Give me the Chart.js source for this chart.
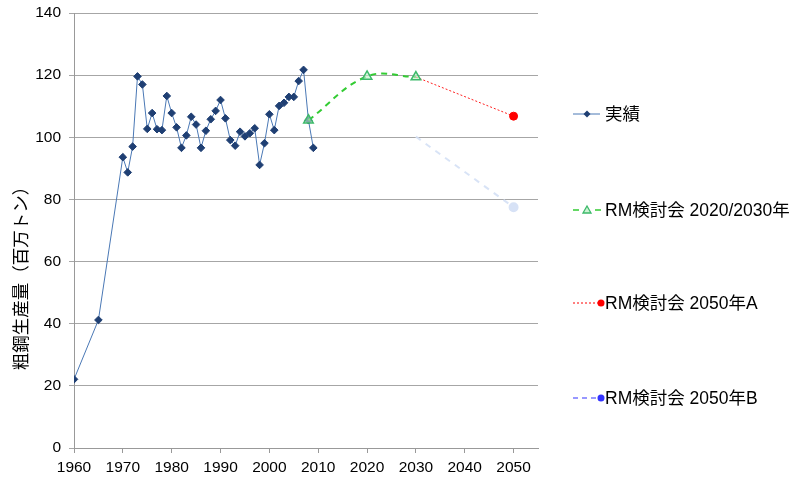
<!DOCTYPE html>
<html><head><meta charset="utf-8">
<script src="https://cdn.jsdelivr.net/npm/chart.js@4"></script>
<style>html,body{margin:0;padding:0;background:#fff}</style>
</head><body>
<canvas id="c" width="792" height="481"></canvas>
<script>
const actualYears = [1960,1965,1970,1971,1972,1973,1974,1975,1976,1977,1978,1979,1980,1981,1982,1983,1984,1985,1986,1987,1988,1989,1990,1991,1992,1993,1994,1995,1996,1997,1998,1999,2000,2001,2002,2003,2004,2005,2006,2007,2008,2009];
const actualValues = [22.1,41.2,93.6,88.7,97.0,119.6,117.0,102.7,107.8,102.6,102.3,113.3,107.8,103.2,96.6,100.6,106.6,104.1,96.6,102.1,105.8,108.5,112.0,106.1,99.1,97.3,101.8,100.3,101.3,102.9,91.1,98.1,107.4,102.3,110.1,111.1,113.0,113.0,118.1,121.7,105.5,96.6];
const rmYears = [2008,2020,2030];
const rmValues = [105.5,119.6,119.4];
const aYears = [2030,2050];
const aValues = [119.4,106.8];
const bYears = [2030,2050];
const bValues = [100.2,77.5];
const xTicks = [1960,1970,1980,1990,2000,2010,2020,2030,2040,2050];
const yTitle = '粗鋼生産量（百万トン）';
const legendNames = ['実績','RM検討会 2020/2030年','RM検討会 2050年A','RM検討会 2050年B'];

const pts = (xs, ys) => xs.map((x,i)=>({x, y: ys[i]}));
const FONT = '"Liberation Sans", Arial, "Noto Sans CJK JP", sans-serif';

const extras = {
  id: 'extras',
  afterDraw(chart) {
    const ctx = chart.ctx;
    ctx.save();
    ctx.translate(20, 274);
    ctx.rotate(-Math.PI/2);
    ctx.fillStyle = '#000';
    ctx.font = '17.5px "Noto Sans CJK JP", sans-serif';
    ctx.textAlign = 'center';
    ctx.textBaseline = 'middle';
    ctx.fillText(yTitle, 0, 0);
    ctx.restore();

    const ys = [114, 210, 303, 398];
    ctx.save();
    ctx.font = '17.5px ' + FONT;
    ctx.textBaseline = 'middle';
    let y = ys[0];
    ctx.strokeStyle = '#4a78b5'; ctx.lineWidth = 1;
    ctx.beginPath(); ctx.moveTo(573, y); ctx.lineTo(600, y); ctx.stroke();
    ctx.fillStyle = '#1f3f73';
    ctx.beginPath(); ctx.moveTo(587, y-3.5); ctx.lineTo(590.5, y); ctx.lineTo(587, y+3.5); ctx.lineTo(583.5, y); ctx.closePath(); ctx.fill();
    y = ys[1];
    ctx.strokeStyle = '#33cc33'; ctx.lineWidth = 1.5;
    ctx.beginPath(); ctx.moveTo(573, y); ctx.lineTo(579, y); ctx.moveTo(595, y); ctx.lineTo(601, y); ctx.stroke();
    ctx.strokeStyle = '#3cb96a'; ctx.fillStyle = 'rgba(190,240,200,0.8)'; ctx.lineWidth = 1.3;
    ctx.beginPath(); ctx.moveTo(587, y-4); ctx.lineTo(591, y+3); ctx.lineTo(583, y+3); ctx.closePath(); ctx.fill(); ctx.stroke();
    y = ys[2];
    ctx.strokeStyle = '#ff0000'; ctx.lineWidth = 1; ctx.setLineDash([2,2]);
    ctx.beginPath(); ctx.moveTo(573, y); ctx.lineTo(598, y); ctx.stroke();
    ctx.setLineDash([]);
    ctx.fillStyle = '#ff0000';
    ctx.beginPath(); ctx.arc(601, y, 3.5, 0, Math.PI*2); ctx.fill();
    y = ys[3];
    ctx.strokeStyle = '#3333ff'; ctx.lineWidth = 1.2; ctx.setLineDash([5,4]);
    ctx.beginPath(); ctx.moveTo(573, y); ctx.lineTo(598, y); ctx.stroke();
    ctx.setLineDash([]);
    ctx.fillStyle = '#3333ff';
    ctx.beginPath(); ctx.arc(601, y, 3.5, 0, Math.PI*2); ctx.fill();
    ctx.fillStyle = '#000';
    legendNames.forEach((n,i)=>ctx.fillText(n, 605, ys[i]+1));
    ctx.restore();
  }
};

new Chart(document.getElementById('c'), {
  type: 'line',
  data: {
    datasets: [
      {
        label: legendNames[0],
        data: pts(actualYears, actualValues),
        borderColor: '#4a78b5', borderWidth: 1,
        pointStyle: 'rectRot', pointRadius: 3.8, pointBackgroundColor: '#1f3f73', pointBorderColor: '#1f3f73', pointBorderWidth: 1,
        tension: 0, order: 2
      },
      {
        label: legendNames[1],
        data: pts(rmYears, rmValues),
        borderColor: '#33cc33', borderWidth: 2, borderDash: [6,5],
        pointStyle: 'triangle', pointRadius: 5.5, pointBackgroundColor: 'rgba(190,240,200,0.6)', pointBorderColor: '#3cb96a', pointBorderWidth: 1.5,
        tension: 0.4, order: 1
      },
      {
        label: legendNames[2],
        data: pts(aYears, aValues),
        borderColor: '#ff2020', borderWidth: 1, borderDash: [2,2],
        pointRadius: [0, 4], pointBackgroundColor: '#ff0000', pointBorderColor: '#ff0000',
        tension: 0, order: 3
      },
      {
        label: legendNames[3],
        data: pts(bYears, bValues),
        borderColor: 'rgba(212,224,245,0.9)', borderWidth: 2, borderDash: [6,6],
        pointRadius: [0, 4], pointBackgroundColor: 'rgba(215,226,246,1)', pointBorderColor: 'rgba(215,226,246,1)',
        tension: 0, order: 4
      }
    ]
  },
  options: {
    responsive: false,
    animation: false,
    devicePixelRatio: 1,
    layout: { padding: { top: 13, right: 254, left: 0, bottom: 0 } },
    plugins: { legend: { display: false }, tooltip: { enabled: false } },
    scales: {
      x: {
        type: 'linear', min: 1960, max: 2055,
        afterBuildTicks: (s) => { s.ticks = xTicks.map(v=>({value:v})); },
        afterFit: (s) => { s.height = 33; },
        ticks: { color: '#000', font: { family: FONT, size: 15.5 }, padding: 5, maxRotation: 0, autoSkip: false, callback: v => String(v) },
        grid: { drawOnChartArea: false, color: '#999', tickLength: 5 },
        border: { color: '#999' }
      },
      y: {
        min: 0, max: 140,
        ticks: { stepSize: 20, color: '#000', font: { family: FONT, size: 15.5, lineHeight: 0.6 }, padding: 8 },
        afterFit: (s) => { s.width = 74; },
        grid: { color: '#a6a6a6', tickLength: 5 },
        border: { color: '#999' }
      }
    }
  },
  plugins: [extras]
});
</script>
</body></html>
